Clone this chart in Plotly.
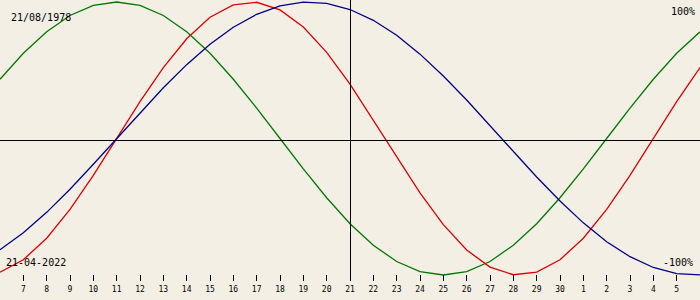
import plotly.graph_objects as go

# Dates shown (one sample per day), 6 Apr 2022 .. 6 May 2022
dates = ["2022-04-%02d" % d for d in range(6, 31)] + ["2022-05-%02d" % d for d in range(1, 7)]

physical = [-0.979, -0.888, -0.731, -0.520, -0.270, 0.000, 0.270, 0.520, 0.731, 0.888,
            0.979, 0.998, 0.942, 0.817, 0.631, 0.398, 0.136, -0.136, -0.398, -0.631,
            -0.817, -0.942, -0.998, -0.979, -0.888, -0.731, -0.520, -0.270, 0.000, 0.270,
            0.520]
emotional = [0.434, 0.624, 0.782, 0.901, 0.975, 1.000, 0.975, 0.901, 0.782, 0.624,
             0.434, 0.223, 0.000, -0.223, -0.434, -0.624, -0.782, -0.901, -0.975, -1.000,
             -0.975, -0.901, -0.782, -0.624, -0.434, -0.223, 0.000, 0.223, 0.434, 0.624,
             0.782]
intellectual = [-0.815, -0.690, -0.541, -0.372, -0.189, 0.000, 0.189, 0.372, 0.541, 0.690,
                0.815, 0.910, 0.972, 0.999, 0.990, 0.945, 0.866, 0.756, 0.618, 0.458,
                0.282, 0.095, -0.095, -0.282, -0.458, -0.618, -0.756, -0.866, -0.945, -0.990,
                -0.999]

tick_dates = dates[1:-1]
tick_labels = [str(int(d[-2:])) for d in tick_dates]

birth_label = "21/08/1978"
today_label = "21-04-2022"
today_index = dates.index("2022-04-21")
top_label = "100%"
bottom_label = "-100%"

fig = go.Figure()
for vals, col in [(emotional, "#007800"), (physical, "#E00000"), (intellectual, "#000088")]:
    fig.add_trace(go.Scatter(x=dates, y=vals, mode="lines",
                             line=dict(color=col, width=1.3), hoverinfo="skip"))

bg = "#F3EFE4"
fig.update_layout(
    width=700, height=300,
    margin=dict(l=0, r=0, t=0, b=19),
    paper_bgcolor=bg, plot_bgcolor=bg,
    showlegend=False,
    xaxis=dict(type="date", range=[dates[0], dates[-1]],
               tickmode="array", tickvals=tick_dates, ticktext=tick_labels,
               ticks="inside", ticklen=6, tickwidth=1, tickcolor="black",
               showgrid=False, zeroline=False, showline=False,
               tickfont=dict(family="DejaVu Sans Mono", size=8, color="black"),
               ticklabelstandoff=2, fixedrange=True),
    yaxis=dict(range=[-1.04395, 1.01465], visible=False, showgrid=False,
               zeroline=False, fixedrange=True),
    font=dict(family="DejaVu Sans Mono", size=10, color="black"),
)

# crisp 1px black cross-hair (offset by half a pixel)
hy = 1 - 140.5 / 281
fig.add_shape(type="line", xref="paper", yref="paper", x0=0, x1=1,
              y0=hy, y1=hy, line=dict(color="black", width=1))
vx = (today_index / (len(dates) - 1) * 700 + 0.5) / 700
fig.add_shape(type="line", xref="paper", yref="paper", x0=vx, x1=vx,
              y0=0, y1=1, line=dict(color="black", width=1))

ann = dict(showarrow=False, xref="paper", yref="paper",
           font=dict(family="DejaVu Sans Mono", size=10, color="black"))
fig.add_annotation(text=birth_label, x=9 / 700, y=1 - 17 / 281, xanchor="left", yanchor="middle", **ann)
fig.add_annotation(text=today_label, x=4 / 700, y=1 - 262 / 281, xanchor="left", yanchor="middle", **ann)
fig.add_annotation(text=top_label, x=697 / 700, y=1 - 12 / 281, xanchor="right", yanchor="middle", **ann)
fig.add_annotation(text=bottom_label, x=695 / 700, y=1 - 262 / 281, xanchor="right", yanchor="middle", **ann)

fig.write_html("out.html", config={"displayModeBar": False})
